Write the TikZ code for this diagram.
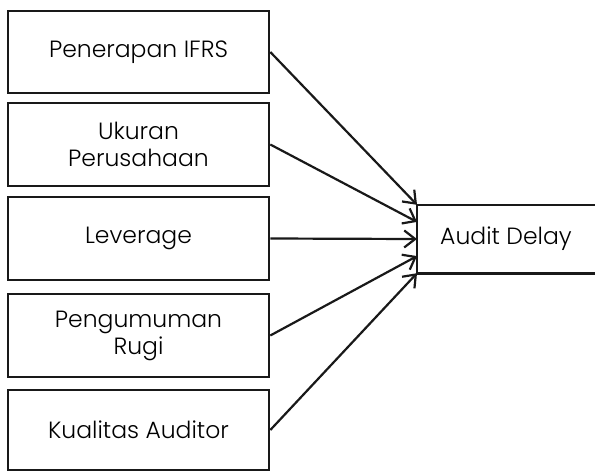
\documentclass[tikz,border=0pt]{standalone}
\usepackage{fontspec}
\setmainfont{Poppins}[UprightFont={* Light}]
\usetikzlibrary{arrows.meta,calc}
\begin{document}
\begin{tikzpicture}[x=1pt,y=-1pt,
  txt/.style={font=\fontsize{23.5}{27}\selectfont},
  leftbox/.style={txt,draw=black!90,line width=2.6pt,minimum width=261pt,minimum height=82pt,align=center,inner sep=0pt},
  outbox/.style={minimum width=190pt,minimum height=68pt,inner sep=0pt},
  arr/.style={line width=2.2pt,draw=black!90,-{Straight Barb[length=11pt,width=17pt,line width=2.2pt]}}]
\useasboundingbox (0,0) rectangle (595,472);
\clip (0,0) rectangle (595,472);
\node[leftbox] (b1) at (138.5,52) {Penerapan IFRS};
\node[leftbox,minimum height=83pt] (b2) at (138.5,144.5) {Ukuran\\Perusahaan};
\node[leftbox,minimum height=83pt] (b3) at (138.5,238.5) {Leverage};
\node[leftbox,minimum height=83pt] (b4) at (138.5,335.5) {Pengumuman\\Rugi};
\node[leftbox,minimum height=80pt] (b5) at (138.5,430) {Kualitas Auditor};
\node[outbox,anchor=west] (ad) at (417,239) {};
\draw[line width=2.6pt,draw=black!90] ($(ad.north east)+(20,0)$) -- (ad.north west) -- (ad.south west) -- ($(ad.south east)+(20,0)$);
\node[txt,anchor=west,inner sep=0pt] (adt) at (440,239) {Audit Delay};
\draw[arr] (b1.east) -- (ad.north west);
\draw[arr] (b2.east) -- ($(ad.north west)!0.25!(ad.south west)$);
\draw[arr] (b3.east) -- (ad.west);
\draw[arr] (b4.east) -- ($(ad.north west)!0.75!(ad.south west)$);
\draw[arr] (b5.east) -- (ad.south west);
\end{tikzpicture}
\end{document}
